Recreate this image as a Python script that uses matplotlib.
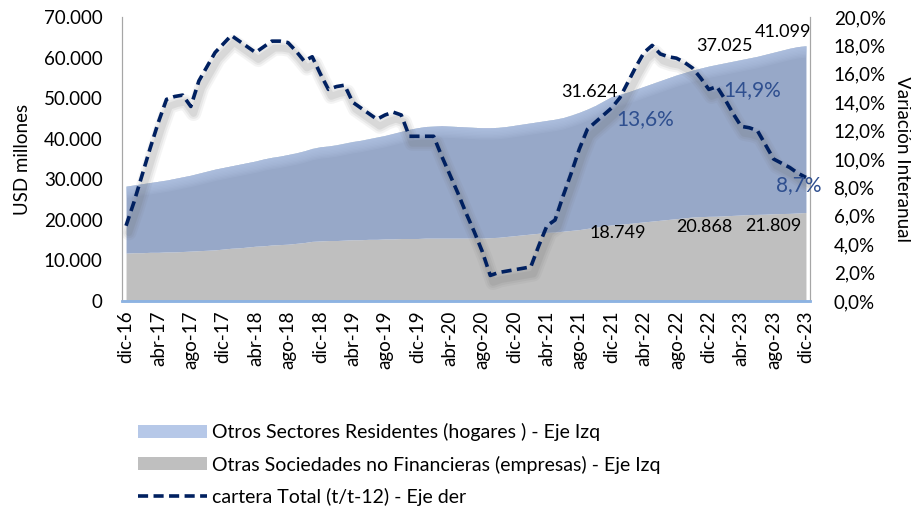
import numpy as np
import matplotlib
matplotlib.use('Agg')
import matplotlib.pyplot as plt
import matplotlib.transforms as mtransforms
from matplotlib.patches import Patch
from matplotlib.lines import Line2D
from matplotlib.ticker import FuncFormatter, MultipleLocator

plt.rcParams['font.family'] = ['Lato', 'DejaVu Sans']

# ---------------- data (monthly, dic-16 .. dic-23) ----------------
tick_labels = ['dic-16', 'abr-17', 'ago-17', 'dic-17', 'abr-18', 'ago-18', 'dic-18',
               'abr-19', 'ago-19', 'dic-19', 'abr-20', 'ago-20', 'dic-20', 'abr-21',
               'ago-21', 'dic-21', 'abr-22', 'ago-22', 'dic-22', 'abr-23', 'ago-23', 'dic-23']

# Otras Sociedades no Financieras (empresas), USD millones
empresas = [11800, 11900, 11900, 12000, 12000, 12100, 12100, 12200, 12300, 12400, 12500, 12600,
            12800, 13000, 13100, 13300, 13500, 13600, 13800, 13900, 14000, 14200, 14400, 14700,
            14800, 14900, 14900, 15000, 15100, 15100, 15200, 15200, 15300, 15300, 15400, 15400,
            15400, 15500, 15500, 15500, 15500, 15500, 15500, 15500, 15500, 15600, 15700, 15900,
            16100, 16300, 16500, 16700, 16900, 17000, 17200, 17400, 17600, 17900, 18200, 18500,
            18749, 18900, 19100, 19300, 19500, 19700, 19900, 20100, 20300, 20500, 20700, 20800,
            20868, 20900, 21000, 21100, 21200, 21300, 21350, 21400, 21500, 21550, 21600, 21700,
            21809]

# Otros Sectores Residentes (hogares), USD millones
hogares = [16500, 16700, 17000, 17200, 17500, 17700, 18100, 18400, 18700, 19100, 19500, 19900,
           20100, 20300, 20600, 20800, 21000, 21400, 21600, 21800, 22100, 22300, 22600, 22900,
           23200, 23300, 23600, 23900, 24200, 24500, 24800, 25200, 25500, 26000, 26400, 26900,
           27300, 27500, 27600, 27700, 27600, 27500, 27400, 27300, 27200, 27100, 27100, 27100,
           27200, 27300, 27400, 27500, 27600, 27800, 28000, 28400, 28900, 29400, 30000, 30800,
           31624, 32000, 32400, 32900, 33400, 33900, 34400, 34900, 35400, 35800, 36200, 36600,
           37025, 37400, 37700, 38000, 38300, 38600, 38950, 39400, 39800, 40250, 40700, 41000,
           41099]

# cartera Total (t/t-12), %
cartera = [5.3, 7.0, 8.9, 10.8, 12.6, 14.2, 14.4, 14.5, 13.7, 15.5, 16.5, 17.5,
           18.1, 18.7, 18.3, 17.9, 17.5, 17.9, 18.3, 18.3, 18.2, 17.6, 16.9, 17.2,
           16.0, 14.9, 15.1, 15.2, 14.0, 13.6, 13.2, 12.8, 13.1, 13.3, 13.1, 11.6,
           11.6, 11.6, 11.6, 10.2, 8.9, 7.6, 6.2, 4.9, 3.5, 1.8, 2.0, 2.1,
           2.2, 2.3, 2.4, 3.9, 5.3, 5.7, 7.4, 9.0, 10.7, 12.1, 12.6, 13.1,
           13.6, 14.3, 15.4, 16.5, 17.5, 18.0, 17.4, 17.2, 17.1, 16.8, 16.4, 15.7,
           14.9, 15.1, 14.2, 13.2, 12.3, 12.2, 12.0, 11.0, 10.0, 9.7, 9.4, 9.0,
           8.7]

# data labels: (month index, text)
labels_hog = [(60, '31.624'), (72, '37.025'), (84, '41.099')]
labels_emp = [(60, '18.749'), (72, '20.868'), (84, '21.809')]
labels_pct = [(60, '13,6%'), (72, '14,9%'), (84, '8,7%')]

# ---------------- figure ----------------
x = np.arange(len(empresas))
emp = np.array(empresas, dtype=float)
hog = np.array(hogares, dtype=float)
tot = emp + hog

fig = plt.figure(figsize=(9.11, 5.11), dpi=100)
ax = fig.add_axes([122/911, 1 - 301/511, (810 - 122)/911, (301 - 17)/511])
ax2 = ax.twinx()

c_blue_main = '#97A8C8'
c_blue_light = '#B6C8E8'
c_gray = '#BFBFBF'
c_line = '#002060'
c_pct = '#2F4F8F'
fs = 13.5
fs_leg = 14

ax.fill_between(x, 0, emp, color=c_gray, lw=0, zorder=1)
ax.fill_between(x, emp, tot, color=c_blue_main, lw=0, zorder=1)
for i in range(8):
    d = 350 * (i + 1)
    ax.fill_between(x, np.maximum(tot - d, emp), tot, color=c_blue_light, alpha=0.14, lw=0, zorder=1.1)

ax.set_xlim(-0.5, 84.5)
ax.set_ylim(0, 70000)
ax2.set_ylim(0, 20)

# line shadow
for lw, a in [(11, 0.07), (8, 0.09), (5, 0.12)]:
    tr = ax2.transData + mtransforms.ScaledTranslation(2/72, -5/72, fig.dpi_scale_trans)
    ax2.plot(x, cartera, color='#6E6E6E', lw=lw, alpha=a, solid_capstyle='round',
             solid_joinstyle='round', transform=tr, zorder=2)
ax2.plot(x, cartera, color=c_line, lw=2.6, linestyle=(0, (2.8, 1.5)), zorder=3,
         dash_capstyle='butt')

# ticks
ax.set_xticks(np.arange(0, 85, 4))
ax.set_xticklabels(tick_labels, rotation=90, fontsize=fs)
ax.yaxis.set_major_locator(MultipleLocator(10000))
ax.yaxis.set_major_formatter(FuncFormatter(lambda v, p: '0' if v == 0 else f'{int(v):,}'.replace(',', '.')))
ax2.yaxis.set_major_locator(MultipleLocator(2))
ax2.yaxis.set_major_formatter(FuncFormatter(lambda v, p: f'{v:.1f}%'.replace('.', ',')))
ax.tick_params(axis='both', length=0, labelsize=fs, colors='black')
ax.tick_params(axis='y', pad=14)
ax.tick_params(axis='x', pad=7)
ax2.tick_params(axis='y', length=0, labelsize=fs, pad=17)

for a in (ax, ax2):
    a.spines['top'].set_visible(False)
    a.spines['left'].set_color('#A6A6A6')
    a.spines['right'].set_color('#A6A6A6')
    a.spines['bottom'].set_color('#8DB3E2')
    a.spines['bottom'].set_linewidth(1.8)
ax.patch.set_visible(False)
ax2.set_zorder(ax.get_zorder() + 1)

ax.set_ylabel('USD millones', fontsize=fs, labelpad=9)
ax2.set_ylabel('Variación Interanual', fontsize=fs, rotation=270, labelpad=18)

# data labels
off_hog = {60: (-22, 5), 72: (16, 20), 84: (-23, 14)}
off_emp = {60: (6, -8), 72: (-4, -11), 84: (-33, -13)}
off_pct = {60: (33, -11), 72: (43, -1), 84: (-7, -8)}
for i, t in labels_hog:
    ax.annotate(t, (x[i], tot[i]), xytext=off_hog[i], textcoords='offset pixels',
                ha='center', va='center', fontsize=13, color='black', zorder=5)
for i, t in labels_emp:
    ax.annotate(t, (x[i], emp[i]), xytext=off_emp[i], textcoords='offset pixels',
                ha='center', va='center', fontsize=13, color='black', zorder=5)
for i, t in labels_pct:
    ax2.annotate(t, (x[i], cartera[i]), xytext=off_pct[i], textcoords='offset pixels',
                 ha='center', va='center', fontsize=15, color=c_pct, zorder=5)

# legend
handles = [Patch(facecolor=c_blue_light, edgecolor='none'),
           Patch(facecolor=c_gray, edgecolor='none'),
           Line2D([0], [0], color=c_line, lw=2.6, linestyle=(0, (2.8, 1.5)))]
names = ['Otros Sectores Residentes (hogares ) - Eje Izq',
         'Otras Sociedades no Financieras (empresas) - Eje Izq',
         'cartera Total (t/t-12) - Eje der']
fig.legend(handles, names, loc='upper left', bbox_to_anchor=(138/911, 1 - 423/511),
           frameon=False, fontsize=fs_leg, handlelength=3.55, handleheight=0.65,
           handletextpad=0.25, labelspacing=0.74, borderaxespad=0, borderpad=0)

fig.savefig('out.png', dpi=100)
